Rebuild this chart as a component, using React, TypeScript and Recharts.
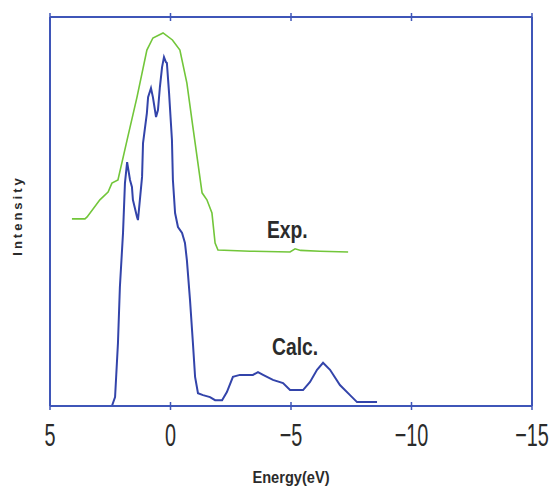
import React from 'react';
import { LineChart, Line, XAxis, YAxis, ReferenceDot } from 'recharts';

// x-axis tick values (eV)
const energyTicks = [5, 0, -5, -10, -15];

// experimental spectrum (green)
const expEnergy = [4.09, 3.55, 3.46, 2.93, 2.59, 2.43, 2.18, 1.8, 1.39, 0.98, 0.73, 0.31, -0.08, -0.39, -0.68, -0.93, -1.31, -1.51, -1.72, -1.85, -1.97, -3.3, -4.96, -5.17, -5.4, -6.2, -7.37];
const expIntensity = [48.1, 48.1, 48.6, 53.0, 55.0, 57.3, 58.1, 68.4, 79.4, 91.5, 94.6, 95.9, 94.1, 91.5, 83.0, 71.7, 54.8, 53.0, 49.6, 41.9, 40.1, 39.8, 39.6, 40.4, 40.0, 39.8, 39.6];

// calculated spectrum (blue)
const calcEnergy = [2.43, 2.3, 2.18, 2.1, 1.97, 1.89, 1.8, 1.68, 1.6, 1.56, 1.39, 1.35, 1.18, 1.14, 0.98, 0.93, 0.81, 0.73, 0.6, 0.52, 0.44, 0.35, 0.27, 0.19, 0.15, 0.06, -0.06, -0.1, -0.19, -0.31, -0.48, -0.6, -0.68, -0.81, -0.93, -1.02, -1.14, -1.35, -1.64, -1.85, -2.14, -2.34, -2.59, -2.88, -3.42, -3.63, -3.84, -4.25, -4.67, -4.96, -5.5, -5.79, -6.08, -6.33, -6.62, -7.03, -7.45, -7.74, -8.57];
const calcIntensity = [0, 2.3, 16.2, 30.6, 44.5, 57.3, 62.7, 58.1, 56.3, 53.0, 48.6, 47.8, 58.9, 67.6, 75.3, 79.4, 81.7, 79.4, 74.3, 76.1, 82.0, 87.1, 89.7, 88.4, 88.2, 80.5, 68.4, 58.1, 49.6, 46.0, 44.5, 41.9, 37.5, 27.2, 16.2, 7.5, 3.3, 2.8, 2.3, 1.5, 1.5, 3.6, 7.5, 8.0, 8.0, 8.7, 8.0, 6.7, 5.9, 4.1, 4.1, 6.2, 9.3, 11.1, 9.3, 5.4, 2.8, 1.0, 1.0];

const expData = expEnergy.map((e, i) => ({ e, v: expIntensity[i] }));
const calcData = calcEnergy.map((e, i) => ({ e, v: calcIntensity[i] }));

const axisColor = '#3f56b8';
const textColor = '#2b2b2b';

const fmt = (v: number) => (v < 0 ? '\u2212' + Math.abs(v) : String(v));

const BottomTick = (props: any) => {
  const { x, y, payload } = props;
  return (
    <g transform={`translate(${x},${y})`}>
      <line y1={-4} y2={4} stroke={axisColor} strokeWidth={1.5} />
      <g transform="translate(0,40) scale(0.62,1)">
        <text x={0} y={0} textAnchor="middle" fontSize={32} fill={textColor} fontFamily="'Liberation Sans', Arial, sans-serif">
          {fmt(payload.value)}
        </text>
      </g>
    </g>
  );
};

const TopTick = (props: any) => {
  const { x, y } = props;
  return <line x1={x} x2={x} y1={y - 4} y2={y + 4} stroke={axisColor} strokeWidth={1.5} />;
};

const curveLabel = (text: string) => (props: any) => {
  const vb = props.viewBox || {};
  const x = vb.x + (vb.width || 0) / 2;
  const y = vb.y + (vb.height || 0) / 2;
  return (
    <g transform={`translate(${x},${y}) scale(0.84,1)`}>
      <text x={0} y={0} fontSize={23} fontWeight="bold" fill={textColor} fontFamily="'Liberation Sans', Arial, sans-serif">
        {text}
      </text>
    </g>
  );
};

const xTitle = (props: any) => {
  const vb = props.viewBox || {};
  const x = vb.x + vb.width / 2;
  const y = vb.y + 77;
  return (
    <g transform={`translate(${x},${y}) scale(0.86,1)`}>
      <text x={0} y={0} textAnchor="middle" fontSize={17} fontWeight="bold" fill={textColor} fontFamily="'Liberation Sans', Arial, sans-serif">
        Energy(eV)
      </text>
    </g>
  );
};

const yTitle = (props: any) => {
  const vb = props.viewBox || {};
  const x = 22;
  const y = vb.y + vb.height / 2 + 4;
  return (
    <text x={x} y={y} transform={`rotate(-90, ${x}, ${y})`} textAnchor="middle" fontSize={13} fontWeight="bold" letterSpacing={3} fill={textColor} fontFamily="'Liberation Sans', Arial, sans-serif">
      Intensity
    </text>
  );
};

export default function App() {
  return (
    <div style={{ position: 'absolute', left: 0, top: 0, background: '#fff' }}>
      <LineChart width={552} height={489} margin={{ top: 0, right: 0, bottom: 0, left: 0 }}>
        <XAxis
          type="number"
          dataKey="e"
          domain={[-15, 5]}
          ticks={energyTicks}
          reversed
          allowDataOverflow
          height={83}
          stroke={axisColor}
          strokeWidth={2}
          tickSize={0}
          tickMargin={0}
          tickLine={false}
          tick={<BottomTick />}
          label={{ content: xTitle }}
        />
        <XAxis
          xAxisId="top"
          orientation="top"
          type="number"
          dataKey="e"
          domain={[-15, 5]}
          ticks={energyTicks}
          reversed
          allowDataOverflow
          height={17}
          stroke={axisColor}
          strokeWidth={2}
          tickSize={0}
          tickMargin={0}
          tickLine={false}
          tick={<TopTick />}
        />
        <YAxis
          type="number"
          domain={[0, 100]}
          width={50}
          stroke={axisColor}
          strokeWidth={2}
          tick={false}
          tickLine={false}
          label={{ content: yTitle }}
        />
        <YAxis yAxisId="right" orientation="right" type="number" domain={[0, 100]} width={20} stroke={axisColor} strokeWidth={2} tick={false} tickLine={false} />
        {/* invisible series so the top frame axis gets a domain */}
        <Line data={expData} xAxisId="top" yAxisId="right" dataKey="v" stroke="none" dot={false} activeDot={false} isAnimationActive={false} />
        <Line data={expData} dataKey="v" type="linear" stroke="#72c63a" strokeWidth={1.6} dot={false} isAnimationActive={false} />
        <Line data={calcData} dataKey="v" type="linear" stroke="#3344aa" strokeWidth={2} dot={false} isAnimationActive={false} />
        <ReferenceDot x={-4.0} y={43.2} r={0} fill="none" stroke="none" label={{ content: curveLabel('Exp.') }} />
        <ReferenceDot x={-4.21} y={13.1} r={0} fill="none" stroke="none" label={{ content: curveLabel('Calc.') }} />
      </LineChart>
    </div>
  );
}
